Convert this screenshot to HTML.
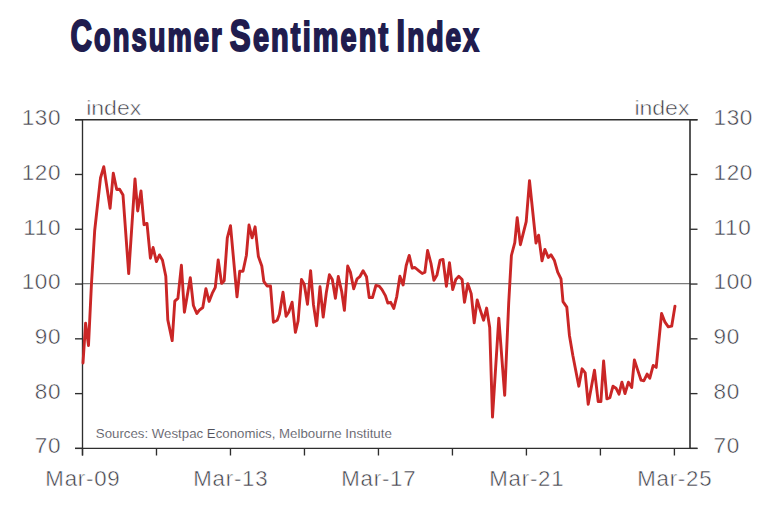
<!DOCTYPE html>
<html><head><meta charset="utf-8">
<style>
html,body{margin:0;padding:0;background:#fff;}
body{width:778px;height:530px;overflow:hidden;position:relative;}
svg{position:absolute;left:0;top:0;}
.t{font-family:"Liberation Sans",sans-serif;font-weight:bold;fill:#201c4e;}
.ax{font-family:"Liberation Sans",sans-serif;fill:#3e3e48;stroke:#fff;stroke-width:0.5px;}
.src{font-family:"Liberation Sans",sans-serif;fill:#50505a;stroke:#fff;stroke-width:0.15px;}
</style></head>
<body>
<svg width="778" height="530" viewBox="0 0 778 530">
<g class="t" font-size="43.5" stroke="#201c4e" stroke-width="2.0" letter-spacing="3.0">
<text transform="translate(70.4,51) scale(0.683724493349119,1)" x="0" y="0">C<tspan font-size="40.0">onsumer</tspan></text>
<text transform="translate(229.8,51) scale(0.721139409247176,1)" x="0" y="0">S<tspan font-size="40.0">entiment</tspan></text>
<text transform="translate(396.6,51) scale(0.700687508107407,1)" x="0" y="0">I<tspan font-size="40.0">ndex</tspan></text>
</g>
<g stroke="#7c7c7c" stroke-width="1.1"><line x1="82.5" y1="283.6" x2="690.0" y2="283.6"/></g>
<g stroke="#2e2e2e" stroke-width="1.35" fill="none">
<line x1="75" y1="119.7" x2="697.5" y2="119.7"/>
<line x1="75" y1="448.4" x2="697.5" y2="448.4"/>
<line x1="82.5" y1="119.7" x2="82.5" y2="455.5"/>
<line x1="690.0" y1="119.7" x2="690.0" y2="448.4" stroke-width="1.6"/>
<line x1="75" y1="448.40" x2="82.5" y2="448.40"/><line x1="690.0" y1="448.40" x2="697.5" y2="448.40"/><line x1="75" y1="393.62" x2="82.5" y2="393.62"/><line x1="690.0" y1="393.62" x2="697.5" y2="393.62"/><line x1="75" y1="338.83" x2="82.5" y2="338.83"/><line x1="690.0" y1="338.83" x2="697.5" y2="338.83"/><line x1="75" y1="284.05" x2="82.5" y2="284.05"/><line x1="690.0" y1="284.05" x2="697.5" y2="284.05"/><line x1="75" y1="229.27" x2="82.5" y2="229.27"/><line x1="690.0" y1="229.27" x2="697.5" y2="229.27"/><line x1="75" y1="174.48" x2="82.5" y2="174.48"/><line x1="690.0" y1="174.48" x2="697.5" y2="174.48"/><line x1="75" y1="119.70" x2="82.5" y2="119.70"/><line x1="690.0" y1="119.70" x2="697.5" y2="119.70"/><line x1="82.50" y1="448.4" x2="82.50" y2="455.5"/><line x1="156.49" y1="448.4" x2="156.49" y2="455.5"/><line x1="230.47" y1="448.4" x2="230.47" y2="455.5"/><line x1="304.46" y1="448.4" x2="304.46" y2="455.5"/><line x1="378.45" y1="448.4" x2="378.45" y2="455.5"/><line x1="452.44" y1="448.4" x2="452.44" y2="455.5"/><line x1="526.42" y1="448.4" x2="526.42" y2="455.5"/><line x1="600.41" y1="448.4" x2="600.41" y2="455.5"/><line x1="674.40" y1="448.4" x2="674.40" y2="455.5"/>
</g>
<polyline fill="none" stroke="#ca2626" stroke-width="2.9" stroke-linejoin="round" stroke-linecap="round" points="83,363 85.6,323.2 88.5,345.5 91.4,285 94.7,230.5 100.5,178 103.8,166.7 110.1,208.2 113.3,173.2 116.7,189.5 119.6,189.3 123,195.1 128.7,273.6 135,178.9 137.7,211 141,191 144,224.7 147,223.4 150.4,258.2 153.1,247.5 156.4,261.6 159.5,254.9 162.5,260.2 165.8,276.3 167.8,319.9 172.2,340.6 174.8,301.1 177.9,298.4 181.4,265.3 184.4,312.2 190.3,277.7 193.4,305.5 196.8,313.5 199.4,310.2 202.8,307.5 205.9,288.7 209.1,301.4 212.2,293.4 215.3,287.4 218.2,259.9 221.6,283.4 224.2,280.7 227.3,237.8 230.5,225.7 237,296.8 239.7,271.3 243,271.3 246.4,255.2 249,225 252.1,237.8 255.1,226.8 258.4,256.6 261.8,266 263.8,281.3 267.1,286 270.5,286 273.4,322.2 277.2,320.2 279.4,314.3 283,292.2 286.1,316.3 288.7,312.3 292.1,302.2 295.4,332.3 298.1,321 301.5,279.4 304.2,284.1 307.5,304.2 310.6,270.7 313.5,304.9 316.6,325.7 320,286.8 323.2,317 326.3,292.8 329.4,274.7 332.3,279.4 335.4,298.2 338.3,276.5 341.7,291.5 344.4,310.3 347.7,266 350.4,272.1 353.7,288.8 357.1,278.8 359.8,276.7 363.1,270.7 366.5,276.7 369.2,297.5 372.5,297.5 375.9,285.5 379.2,286.1 382,289.6 385.4,295.6 387.8,303 390.7,302.3 393.8,308.4 396.8,296.3 399.9,276.2 403.1,284.9 406.2,265.5 409.2,255.4 412.2,268.2 414.9,267.5 418.9,270.8 422.2,273.5 424.9,272.2 427.6,250.5 431,263.5 433.9,280.2 437,274.9 440.1,260.1 443,259.4 446.4,286.2 449.5,262.8 452.7,289.6 455.8,279.5 458.8,276.2 462.1,279.5 464.5,302.3 467.8,283.6 471.2,293.6 474.2,322.8 477.2,300 480.3,310.1 483.6,320.2 486.6,308.1 489.7,327.5 492.5,417.1 498.8,318.2 504.7,395.3 508.7,303 511.4,255.5 514.8,242.7 517.2,217.6 520.4,244.7 526.2,221.6 529.5,180.7 536,243 538.6,235.2 542,260.8 544.9,249.4 548.3,257.5 551,254.8 554.3,260.2 557.7,272.2 561,278.9 563,301.7 566.8,307.1 569.4,335.2 572.8,355.3 578.8,386.2 582.1,368.8 585.2,372.8 588.2,404.3 594.5,370.1 598.2,401.6 600.9,401.6 603.6,361 606.9,398.9 609.9,397.6 613,386.2 616,388.2 619,394.2 621.9,382.2 625,393.6 628.4,382.2 631.7,387.5 634.4,360 637.7,370.1 641.1,380.2 643.8,380.8 647.1,374.1 649.8,378.2 653.2,365.4 656.2,367.4 661.6,313.5 665,322.2 668.3,326.9 671.7,326.2 675,306.1"/>
<g class="ax" font-size="22.5" letter-spacing="0.6"><text x="61.0" y="453.22" text-anchor="end">70</text><text x="713.6" y="453.22">70</text><text x="61.0" y="398.55" text-anchor="end">80</text><text x="713.6" y="398.55">80</text><text x="61.0" y="343.88" text-anchor="end">90</text><text x="713.6" y="343.88">90</text><text x="61.0" y="289.21" text-anchor="end">100</text><text x="713.6" y="289.21">100</text><text x="61.0" y="234.54" text-anchor="end">110</text><text x="713.6" y="234.54">110</text><text x="61.0" y="179.87" text-anchor="end">120</text><text x="713.6" y="179.87">120</text><text x="61.0" y="125.20" text-anchor="end">130</text><text x="713.6" y="125.20">130</text></g>
<g class="ax" font-size="22.2" letter-spacing="0.8"><text x="82.50" y="486" text-anchor="middle" dx="0.4">Mar-09</text><text x="230.47" y="486" text-anchor="middle" dx="0.4">Mar-13</text><text x="378.45" y="486" text-anchor="middle" dx="0.4">Mar-17</text><text x="526.42" y="486" text-anchor="middle" dx="0.4">Mar-21</text><text x="674.40" y="486" text-anchor="middle" dx="0.4">Mar-25</text></g>
<text class="ax" x="86.2" y="114.9" font-size="20" textLength="55" lengthAdjust="spacingAndGlyphs">index</text>
<text class="ax" x="634.4" y="114.9" font-size="20" textLength="55" lengthAdjust="spacingAndGlyphs">index</text>
<text class="src" x="95.8" y="438.2" font-size="13" textLength="296" lengthAdjust="spacingAndGlyphs">Sources: Westpac Economics, Melbourne Institute</text>
</svg>
</body></html>
